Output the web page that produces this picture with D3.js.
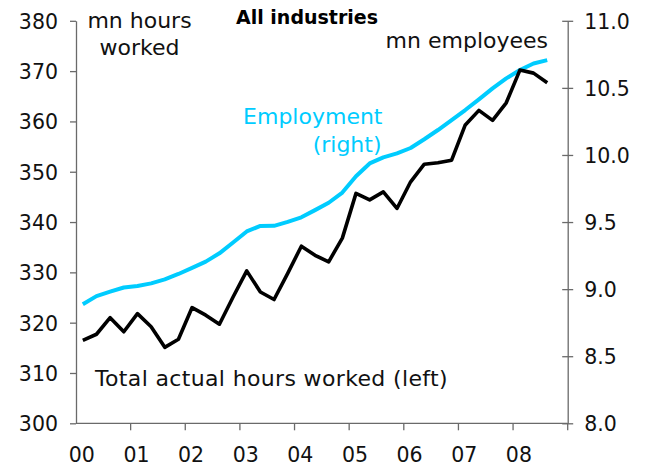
<!DOCTYPE html>
<html>
<head>
<meta charset="utf-8">
<script src="https://cdn.jsdelivr.net/npm/d3@7"></script>
<style>
  body { margin: 0; background: #fff; }
  svg { display: block; }
  text { font-family: "DejaVu Sans", Verdana, sans-serif; fill: #111; }
</style>
</head>
<body>
<div id="chart"></div>
<script>
// Chart data (quarterly, 2000Q1 - 2008Q3)
const yearLabels = ['00', '01', '02', '03', '04', '05', '06', '07', '08'];
const quarterNames = ['Q1', 'Q2', 'Q3', 'Q4'];

// total actual hours worked, mn (left axis)
const hoursWorked = [
    316.5, 317.7, 321.0, 318.2, 321.8, 319.2, 315.1, 316.7,
    323.0, 321.5, 319.7, 325.1, 330.3, 326.1, 324.6, 329.8,
    335.2, 333.4, 332.1, 336.8, 345.7, 344.4, 346.0, 342.7,
    348.0, 351.5, 351.8, 352.3, 359.3, 362.2, 360.2, 363.7,
    370.2, 369.6, 367.7
];

// employment, mn employees (right axis)
const employment = [
    8.887, 8.948, 8.981, 9.012, 9.024, 9.043, 9.073, 9.113,
    9.158, 9.205, 9.267, 9.348, 9.430, 9.471, 9.472, 9.501,
    9.535, 9.589, 9.644, 9.720, 9.842, 9.937, 9.982, 10.012,
    10.052, 10.117, 10.186, 10.260, 10.335, 10.414, 10.496, 10.571,
    10.633, 10.682, 10.707
];

const leftTicks = [300, 310, 320, 330, 340, 350, 360, 370, 380];
const rightTicks = [8.0, 8.5, 9.0, 9.5, 10.0, 10.5, 11.0];

// categories for the axis: every quarter of 2000-2008
const categories = yearLabels.flatMap(y => quarterNames.map(q => y + q));

const width = 655;
const height = 466;
const plot = { left: 76, right: 567.7, top: 20.8, bottom: 423.3 };
const axisColor = '#6a6a6a';
const cyan = '#00ccff';

const svg = d3.select('#chart')
    .append('svg')
    .attr('width', width)
    .attr('height', height);

const x = d3.scaleBand()
    .domain(categories)
    .range([plot.left, plot.right])
    .paddingInner(0)
    .paddingOuter(0);

const yLeft = d3.scaleLinear().domain([300, 380]).range([plot.bottom, plot.top]);
const yRight = d3.scaleLinear().domain([8, 11]).range([plot.bottom, plot.top]);

const cx = i => x(categories[i]) + x.bandwidth() / 2;

// left axis
const leftAxis = svg.append('g')
    .attr('transform', `translate(${plot.left},0)`)
    .call(d3.axisLeft(yLeft).tickValues(leftTicks).tickSize(6).tickPadding(12).tickSizeOuter(0));
leftAxis.selectAll('text').style('font-size', '20.5px').attr('dy', '0.36em');

// right axis (ticks cross the line)
const rightAxis = svg.append('g')
    .attr('transform', `translate(${plot.right},0)`)
    .call(d3.axisRight(yRight).tickValues(rightTicks).tickFormat(d3.format('.1f'))
        .tickSize(5.5).tickPadding(11).tickSizeOuter(0));
rightAxis.selectAll('.tick line').attr('x1', -5.5);
rightAxis.selectAll('text').style('font-size', '20.5px').attr('dy', '0.36em');

[leftAxis, rightAxis].forEach(a => {
    a.selectAll('path, line').attr('stroke', axisColor).attr('stroke-width', 1.3);
    a.selectAll('text').attr('fill', '#111').style('font-family', '"DejaVu Sans", Verdana, sans-serif');
});

// bottom axis: ticks on year boundaries, labels under first quarter
const bottom = svg.append('g');
bottom.append('line')
    .attr('x1', plot.left).attr('x2', plot.right)
    .attr('y1', plot.bottom).attr('y2', plot.bottom)
    .attr('stroke', axisColor).attr('stroke-width', 1.3);

const yearStarts = yearLabels.map(y => y + 'Q1');
bottom.selectAll('.xtick')
    .data(yearStarts.slice(1).map(c => x(c)).concat([plot.right]))
    .enter()
    .append('line')
    .attr('class', 'xtick')
    .attr('x1', d => d).attr('x2', d => d)
    .attr('y1', plot.bottom).attr('y2', plot.bottom + 7)
    .attr('stroke', axisColor).attr('stroke-width', 1.3);

bottom.selectAll('.xlabel')
    .data(yearStarts)
    .enter()
    .append('text')
    .attr('class', 'xlabel')
    .attr('x', d => x(d) + x.bandwidth() / 2 - 1)
    .attr('y', 461.5)
    .attr('text-anchor', 'middle')
    .style('font-size', '20.5px')
    .text(d => d.slice(0, 2));

// lines
const hoursLine = d3.line()
    .x((d, i) => cx(i))
    .y(d => yLeft(d));

const employmentLine = d3.line()
    .x((d, i) => cx(i))
    .y(d => yRight(d));

svg.append('path')
    .datum(employment)
    .attr('fill', 'none')
    .attr('stroke', cyan)
    .attr('stroke-width', 4)
    .attr('stroke-linejoin', 'round')
    .attr('d', employmentLine);

svg.append('path')
    .datum(hoursWorked)
    .attr('fill', 'none')
    .attr('stroke', '#000')
    .attr('stroke-width', 3.6)
    .attr('stroke-linejoin', 'round')
    .attr('d', hoursLine);

// labels
const label = (txt, px, py, anchor, opts = {}) => svg.append('text')
    .attr('x', px)
    .attr('y', py)
    .attr('text-anchor', anchor)
    .style('font-size', opts.size || '22px')
    .style('font-weight', opts.weight || 'normal')
    .style('letter-spacing', opts.spacing || '0px')
    .style('fill', opts.color || '#111')
    .text(txt);

label('All industries', 307, 24, 'middle', { size: '19px', weight: 'bold', color: '#000' });
label('mn hours', 139.5, 28.3, 'middle');
label('worked', 139.5, 55, 'middle');
label('mn employees', 548, 48.3, 'end');
label('Employment', 382.5, 124, 'end', { color: cyan });
label('(right)', 381.5, 152, 'end', { color: cyan });
label('Total actual hours worked (left)', 95, 386, 'start', { spacing: '0.35px' });
</script>
</body>
</html>
